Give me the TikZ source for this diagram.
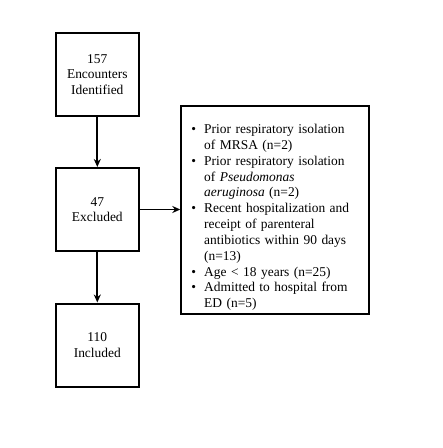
\documentclass[tikz,border=0pt]{standalone}
\usepackage{fontspec}
\setmainfont{Liberation Serif}
\usetikzlibrary{arrows.meta}
\begin{document}
\begin{tikzpicture}[x=1bp,y=-1bp,
  every node/.style={font=\fontsize{13.5}{15.7}\selectfont},
  stage/.style={draw,line width=2bp,minimum width=82.5bp,minimum height=83bp,align=center,inner sep=2bp},
  exbox/.style={draw,line width=2bp,minimum width=187.5bp,minimum height=208bp,inner sep=0bp},
  listtext/.style={text width=165bp,inner sep=0bp,align=left,font=\fontsize{13.5}{15.9}\selectfont},
  flow/.style={line width=1.8bp,-{Stealth[length=8bp,width=7bp]}}]
\useasboundingbox (0,0) rectangle (443,448);
\node[stage] (ident) at (97.3,74.5) {157\\Encounters\\Identified};
\node[stage] (excl) at (97.3,209.5) {47\\Excluded};
\node[stage] (incl) at (97.3,345) {110\\Included};
\node[exbox,anchor=north west] (reasons) at (180.3,105) {};
\node[listtext,anchor=north west] (items) at (188,117.5) {%
\begin{list}{\textbullet}{\setlength\leftmargin{16bp}\setlength\rightmargin{1bp}\setlength\labelwidth{8bp}\setlength\labelsep{8bp}\setlength\itemsep{0pt}\setlength\parsep{0pt}\setlength\topsep{0pt}\setlength\partopsep{0pt}}
\item Prior respiratory isolation of MRSA (n=2)
\item Prior respiratory isolation of \textit{Pseudomonas aeruginosa} (n=2)
\item Recent hospitalization and receipt of parenteral antibiotics within 90 days (n=13)
\item Age < 18 years (n=25)
\item Admitted to hospital from ED (n=5)
\end{list}};
\draw[flow] (ident) -- (excl);
\draw[flow] (excl) -- (incl);
\draw[flow] (excl.east) -- (excl.east -| reasons.west);
\end{tikzpicture}
\end{document}
